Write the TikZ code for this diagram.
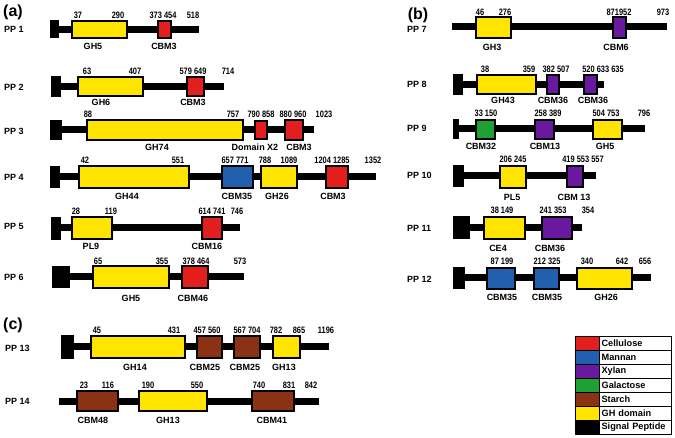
\documentclass[tikz,border=0pt]{standalone}
\usepackage{fontspec}
\setmainfont{Liberation Sans}
\newfontfamily\narrowfont[FakeStretch=0.8]{Liberation Sans}
\usetikzlibrary{fit,positioning}

\definecolor{cellu}{RGB}{226,30,30}
\definecolor{manna}{RGB}{35,95,175}
\definecolor{xylan}{RGB}{105,25,160}
\definecolor{galac}{RGB}{30,160,50}
\definecolor{starc}{RGB}{140,50,20}
\definecolor{ghdom}{RGB}{255,228,0}

\begin{document}
\begin{tikzpicture}[x=1pt, y=-1pt,
	dom/.style={rectangle, draw=black, line width=1.3pt, inner sep=0pt},
	sig/.style={rectangle, fill=black, inner sep=0pt},
	bb/.style={line width=7pt},
	num/.style={font=\narrowfont\bfseries\fontsize{9.3}{10}\selectfont, inner sep=0pt},
	lab/.style={font=\bfseries\fontsize{9}{10}\selectfont, inner sep=0pt},
	pp/.style={font=\bfseries\fontsize{9}{10}\selectfont, inner sep=0pt, anchor=west},
	panel/.style={font=\bfseries\fontsize{16}{18}\selectfont, inner sep=0pt},
	key/.style={rectangle, draw=black, line width=0.6pt, minimum width=24, minimum height=14, inner sep=0pt},
	keytxt/.style={rectangle, draw=black, line width=0.6pt, minimum height=14, text width=68, inner xsep=2, inner ysep=0pt, align=left, font=\bfseries\fontsize{9.2}{10}\selectfont}]
	\useasboundingbox (0,0) rectangle (675,438);

	\node[panel] (pa) at (13,12) {(a)};
	\node[panel] (pb) at (418,15) {(b)};
	\node[panel] (pc) at (13,325) {(c)};

	% PP 1
	\node[pp] (pp1) at (4,29) {PP 1};
	\coordinate (b1s) at (55,29.5); \coordinate (b1e) at (199,29.5);
	\draw[bb] (b1s) -- (b1e);
	\node[sig, fit={(50,20.5) (59,38.5)}] (sp1) {};
	\node[dom, fill=ghdom, fit={(72,21) (127,38)}] (d1-1) {};
	\node[dom, fill=cellu, fit={(158,21) (171,38)}] (d1-2) {};
	\foreach \x/\t [count=\i] in {78/37, 118/290, 163/{373 454}, 193/518}
		\node[num] (n1-\i) at (\x,15) {\t};
	\foreach \x/\t [count=\i] in {93/GH5, 164/CBM3}
		\node[lab] (l1-\i) at (\x,46) {\t};

	% PP 2
	\node[pp] (pp2) at (4,87) {PP 2};
	\coordinate (b2s) at (56,86.5); \coordinate (b2e) at (224,86.5);
	\draw[bb] (b2s) -- (b2e);
	\node[sig, fit={(51,76) (61,97)}] (sp2) {};
	\node[dom, fill=ghdom, fit={(78,77) (143,96)}] (d2-1) {};
	\node[dom, fill=cellu, fit={(187,77) (204,96)}] (d2-2) {};
	\foreach \x/\t [count=\i] in {87/63, 135/407, 193/{579 649}, 228/714}
		\node[num] (n2-\i) at (\x,71) {\t};
	\foreach \x/\t [count=\i] in {101/GH6, 193/CBM3}
		\node[lab] (l2-\i) at (\x,102) {\t};

	% PP 3
	\node[pp] (pp3) at (4,131) {PP 3};
	\coordinate (b3s) at (56,130); \coordinate (b3e) at (314,130);
	\draw[bb] (b3s) -- (b3e);
	\node[sig, fit={(50,120) (62,140)}] (sp3) {};
	\node[dom, fill=ghdom, fit={(87,120) (243,140)}] (d3-1) {};
	\node[dom, fill=cellu, fit={(255,121) (267,139)}] (d3-2) {};
	\node[dom, fill=cellu, fit={(285,120) (303,140)}] (d3-3) {};
	\foreach \x/\t [count=\i] in {88/88, 233/757, 261/{790 858}, 293/{880 960}, 324/1023}
		\node[num] (n3-\i) at (\x,114) {\t};
	\foreach \x/\t [count=\i] in {157/GH74, 255/Domain X2, 299/CBM3}
		\node[lab] (l3-\i) at (\x,147) {\t};

	% PP 4
	\node[pp] (pp4) at (4,177) {PP 4};
	\coordinate (b4s) at (55,177); \coordinate (b4e) at (376,177);
	\draw[bb] (b4s) -- (b4e);
	\node[sig, fit={(50,166) (60,188)}] (sp4) {};
	\node[dom, fill=ghdom, fit={(79,166) (189,188)}] (d4-1) {};
	\node[dom, fill=manna, fit={(222,166) (253,188)}] (d4-2) {};
	\node[dom, fill=ghdom, fit={(261,166) (297,188)}] (d4-3) {};
	\node[dom, fill=cellu, fit={(326,166) (348,188)}] (d4-4) {};
	\foreach \x/\t [count=\i] in {85/42, 178/551, 235/{657 771}, 265/788, 289/1089, 332/{1204 1285}, 373/1352}
		\node[num] (n4-\i) at (\x,160) {\t};
	\foreach \x/\t [count=\i] in {127/GH44, 237/CBM35, 277/GH26, 333/CBM3}
		\node[lab] (l4-\i) at (\x,196) {\t};

	% PP 5
	\node[pp] (pp5) at (4,226) {PP 5};
	\coordinate (b5s) at (56,228); \coordinate (b5e) at (240,228);
	\draw[bb] (b5s) -- (b5e);
	\node[sig, fit={(51,217) (61,240)}] (sp5) {};
	\node[dom, fill=ghdom, fit={(72,217) (112,239)}] (d5-1) {};
	\node[dom, fill=cellu, fit={(202,217) (222,239)}] (d5-2) {};
	\foreach \x/\t [count=\i] in {76/28, 111/119, 212/{614 741}, 237/746}
		\node[num] (n5-\i) at (\x,211) {\t};
	\foreach \x/\t [count=\i] in {91/PL9, 207/CBM16}
		\node[lab] (l5-\i) at (\x,246) {\t};

	% PP 6
	\node[pp] (pp6) at (4,277) {PP 6};
	\coordinate (b6s) at (60,277); \coordinate (b6e) at (244,277);
	\draw[bb] (b6s) -- (b6e);
	\node[sig, fit={(52,266) (70,288)}] (sp6) {};
	\node[dom, fill=ghdom, fit={(93,266) (169,288)}] (d6-1) {};
	\node[dom, fill=cellu, fit={(182,266) (208,288)}] (d6-2) {};
	\foreach \x/\t [count=\i] in {98/65, 162/355, 196/{378 464}, 240/573}
		\node[num] (n6-\i) at (\x,261) {\t};
	\foreach \x/\t [count=\i] in {131/GH5, 193/CBM46}
		\node[lab] (l6-\i) at (\x,298) {\t};

	% PP 7
	\node[pp] (pp7) at (407,29) {PP 7};
	\coordinate (b7s) at (452,27); \coordinate (b7e) at (667,27);
	\draw[bb] (b7s) -- (b7e);
	\node[dom, fill=ghdom, fit={(476,17) (511,38)}] (d7-1) {};
	\node[dom, fill=xylan, fit={(613,17) (626,38)}] (d7-2) {};
	\foreach \x/\t [count=\i] in {480/46, 505/276, 619/871952, 663/973}
		\node[num] (n7-\i) at (\x,12) {\t};
	\foreach \x/\t [count=\i] in {492/GH3, 616/CBM6}
		\node[lab] (l7-\i) at (\x,47) {\t};

	% PP 8
	\node[pp] (pp8) at (407,84) {PP 8};
	\coordinate (b8s) at (458,84.5); \coordinate (b8e) at (604,84.5);
	\draw[bb] (b8s) -- (b8e);
	\node[sig, fit={(453,74) (463,95)}] (sp8) {};
	\node[dom, fill=ghdom, fit={(477,75) (536,94)}] (d8-1) {};
	\node[dom, fill=xylan, fit={(547,75) (559,94)}] (d8-2) {};
	\node[dom, fill=xylan, fit={(584,75) (597,94)}] (d8-3) {};
	\foreach \x/\t [count=\i] in {485/38, 529/359, 556/{382 507}, 603/{520 633 635}}
		\node[num] (n8-\i) at (\x,69) {\t};
	\foreach \x/\t [count=\i] in {503/GH43, 553/CBM36, 593/CBM36}
		\node[lab] (l8-\i) at (\x,100) {\t};

	% PP 9
	\node[pp] (pp9) at (407,128) {PP 9};
	\coordinate (b9s) at (456,129); \coordinate (b9e) at (645,129);
	\draw[bb] (b9s) -- (b9e);
	\node[sig, fit={(453,119) (459,139)}] (sp9) {};
	\node[dom, fill=galac, fit={(476,120) (495,139)}] (d9-1) {};
	\node[dom, fill=xylan, fit={(535,120) (554,139)}] (d9-2) {};
	\node[dom, fill=ghdom, fit={(593,120) (622,139)}] (d9-3) {};
	\foreach \x/\t [count=\i] in {486/{33 150}, 548/{258 389}, 606/{504 753}, 644/796}
		\node[num] (n9-\i) at (\x,113) {\t};
	\foreach \x/\t [count=\i] in {481/CBM32, 545/CBM13, 605/GH5}
		\node[lab] (l9-\i) at (\x,146) {\t};

	% PP 10
	\node[pp] (pp10) at (407,175) {PP 10};
	\coordinate (b10s) at (458,176); \coordinate (b10e) at (596,176);
	\draw[bb] (b10s) -- (b10e);
	\node[sig, fit={(453,165) (464,187)}] (sp10) {};
	\node[dom, fill=ghdom, fit={(500,166) (526,188)}] (d10-1) {};
	\node[dom, fill=xylan, fit={(567,166) (583,187)}] (d10-2) {};
	\foreach \x/\t [count=\i] in {513/{206 245}, 583/{419 553 557}}
		\node[num] (n10-\i) at (\x,159) {\t};
	\foreach \x/\t [count=\i] in {512/PL5, 574/CBM 13}
		\node[lab] (l10-\i) at (\x,197) {\t};

	% PP 11
	\node[pp] (pp11) at (407,228) {PP 11};
	\coordinate (b11s) at (460,227.5); \coordinate (b11e) at (582,227.5);
	\draw[bb] (b11s) -- (b11e);
	\node[sig, fit={(453,216) (470,239)}] (sp11) {};
	\node[dom, fill=ghdom, fit={(484,217) (525,239)}] (d11-1) {};
	\node[dom, fill=xylan, fit={(542,217) (572,239)}] (d11-2) {};
	\foreach \x/\t [count=\i] in {502/{38 149}, 553/{241 353}, 588/354}
		\node[num] (n11-\i) at (\x,210) {\t};
	\foreach \x/\t [count=\i] in {498/CE4, 550/CBM36}
		\node[lab] (l11-\i) at (\x,248) {\t};

	% PP 12
	\node[pp] (pp12) at (407,279) {PP 12};
	\coordinate (b12s) at (458,278); \coordinate (b12e) at (651,278);
	\draw[bb] (b12s) -- (b12e);
	\node[sig, fit={(453,267) (465,289)}] (sp12) {};
	\node[dom, fill=manna, fit={(487,268) (515,289)}] (d12-1) {};
	\node[dom, fill=manna, fit={(534,268) (559,289)}] (d12-2) {};
	\node[dom, fill=ghdom, fit={(577,268) (632,289)}] (d12-3) {};
	\foreach \x/\t [count=\i] in {502/{87 199}, 547/{212 325}, 587/340, 622/642, 645/656}
		\node[num] (n12-\i) at (\x,261) {\t};
	\foreach \x/\t [count=\i] in {502/CBM35, 547/CBM35, 606/GH26}
		\node[lab] (l12-\i) at (\x,297) {\t};

	% PP 13
	\node[pp] (pp13) at (5,348) {PP 13};
	\coordinate (b13s) at (67,347); \coordinate (b13e) at (329,347);
	\draw[bb] (b13s) -- (b13e);
	\node[sig, fit={(61,335) (74,359)}] (sp13) {};
	\node[dom, fill=ghdom, fit={(91,336) (185,358)}] (d13-1) {};
	\node[dom, fill=starc, fit={(197,336) (222,358)}] (d13-2) {};
	\node[dom, fill=starc, fit={(234,336) (260,358)}] (d13-3) {};
	\node[dom, fill=ghdom, fit={(273,336) (300,358)}] (d13-4) {};
	\foreach \x/\t [count=\i] in {97/45, 174/431, 207/{457 560}, 247/{567 704}, 276/782, 299/865, 326/1196}
		\node[num] (n13-\i) at (\x,330) {\t};
	\foreach \x/\t [count=\i] in {135/GH14, 205/CBM25, 245/CBM25, 284/GH13}
		\node[lab] (l13-\i) at (\x,367) {\t};

	% PP 14
	\node[pp] (pp14) at (5,401) {PP 14};
	\coordinate (b14s) at (59,401); \coordinate (b14e) at (319,401);
	\draw[bb] (b14s) -- (b14e);
	\node[dom, fill=starc, fit={(77,391) (118,411)}] (d14-1) {};
	\node[dom, fill=ghdom, fit={(139,391) (207,411)}] (d14-2) {};
	\node[dom, fill=starc, fit={(252,391) (294,411)}] (d14-3) {};
	\foreach \x/\t [count=\i] in {84/23, 108/116, 148/190, 197/550, 259/740, 289/831, 311/842}
		\node[num] (n14-\i) at (\x,385) {\t};
	\foreach \x/\t [count=\i] in {93/CBM48, 168/GH13, 272/CBM41}
		\node[lab] (l14-\i) at (\x,420) {\t};

	% legend
	\foreach \c/\t [count=\i] in {cellu/Cellulose, manna/Mannan, xylan/Xylan, galac/Galactose, starc/Starch, ghdom/GH domain, black/Signal Peptide} {
		\node[key, fill=\c] (k\i) at (587,329+14*\i) {};
		\node[keytxt, right=0pt of k\i] (t\i) {\t};
	}
\end{tikzpicture}
\end{document}
